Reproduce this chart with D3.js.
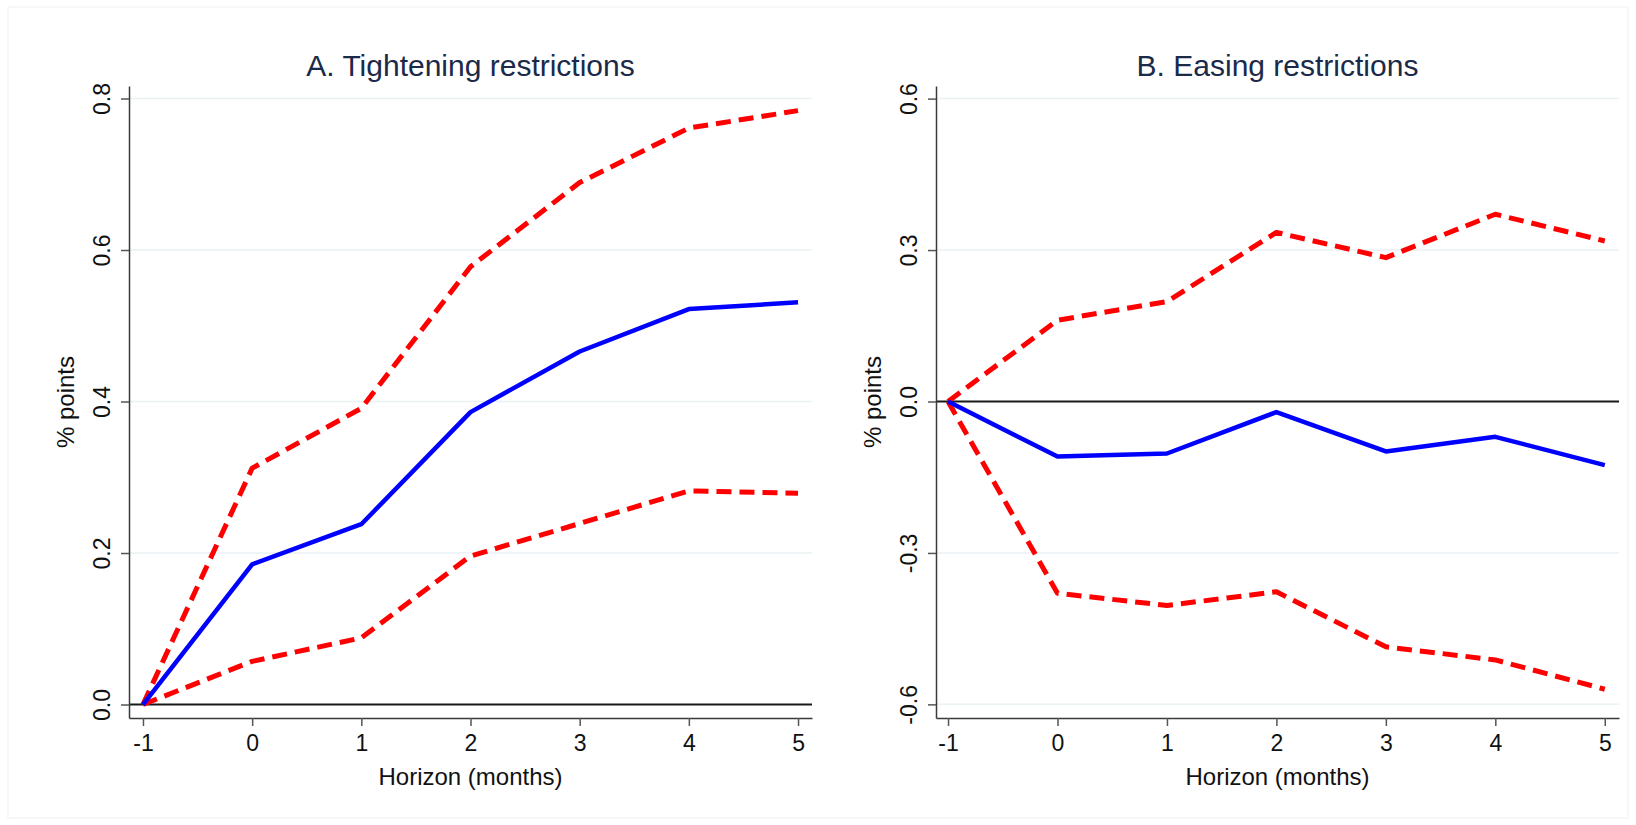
<!DOCTYPE html>
<html>
<head>
<meta charset="utf-8">
<script src="https://cdn.jsdelivr.net/npm/d3@7"></script>
<style>
  body { margin: 0; background: #fff; }
  svg { display: block; font-family: "Liberation Sans", Arial, sans-serif; }
</style>
</head>
<body>
<div id="graph"></div>
<script>
const horizon = [-1, 0, 1, 2, 3, 4, 5];

// A. Tightening restrictions
const tightUpper = [0, 0.312, 0.391, 0.578, 0.689, 0.761, 0.784];
const tightIrf = [0, 0.185, 0.238, 0.386, 0.466, 0.522, 0.531];
const tightLower = [0, 0.057, 0.088, 0.196, 0.239, 0.282, 0.279];
const tightTicks = [0, 0.2, 0.4, 0.6, 0.8];

// B. Easing restrictions
const easeUpper = [0, 0.161, 0.198, 0.335, 0.285, 0.371, 0.318];
const easeIrf = [0, -0.109, -0.103, -0.021, -0.099, -0.070, -0.126];
const easeLower = [0, -0.380, -0.404, -0.377, -0.486, -0.512, -0.570];
const easeTicks = [-0.6, -0.3, 0, 0.3, 0.6];

const W = 1636, H = 825;
const plotTop = 86, plotBottom = 718;

const svg = d3.select('#graph').append('svg')
  .attr('width', W)
  .attr('height', H);

// faint outer frame
svg.append('rect')
  .attr('x', 8).attr('y', 7)
  .attr('width', W - 16).attr('height', H - 14)
  .attr('fill', 'none')
  .attr('stroke', '#f0f0f0')
  .attr('stroke-width', 1);

function drawPanel(opts) {
  const xScale = d3.scaleLinear().domain(opts.xDomain).range([opts.left, opts.right]);
  const yScale = d3.scaleLinear().domain(opts.yDomain).range([plotBottom, plotTop]);
  const g = svg.append('g');

  // gridlines
  g.selectAll('line.grid')
    .data(opts.ticks)
    .enter().append('line')
    .attr('class', 'grid')
    .attr('x1', opts.left).attr('x2', opts.right)
    .attr('y1', (d) => yScale(d)).attr('y2', (d) => yScale(d))
    .attr('stroke', '#eaf2f3')
    .attr('stroke-width', 1.5);

  // zero line
  g.append('line')
    .attr('x1', opts.left).attr('x2', opts.right)
    .attr('y1', yScale(0)).attr('y2', yScale(0))
    .attr('stroke', '#1a1a1a')
    .attr('stroke-width', 2);

  // axes
  const xAxis = d3.axisBottom(xScale)
    .tickValues(horizon)
    .tickSize(8)
    .tickSizeOuter(0)
    .tickPadding(9)
    .tickFormat((d) => d.toFixed(0));
  const xg = g.append('g')
    .attr('transform', 'translate(0,' + plotBottom + ')')
    .call(xAxis);
  xg.select('.domain').attr('stroke', '#3a3a3a').attr('stroke-width', 1.5);
  xg.selectAll('.tick line').attr('stroke', '#555').attr('stroke-width', 1.5);
  xg.selectAll('.tick text')
    .attr('font-size', 23)
    .attr('fill', '#111')
    .attr('font-family', '"Liberation Sans", Arial, sans-serif');

  const yAxis = d3.axisLeft(yScale)
    .tickValues(opts.ticks)
    .tickSize(8)
    .tickSizeOuter(0)
    .tickFormat((d) => d.toFixed(1));
  const yg = g.append('g')
    .attr('transform', 'translate(' + opts.left + ',0)')
    .call(yAxis);
  yg.select('.domain').attr('stroke', '#3a3a3a').attr('stroke-width', 1.5);
  yg.selectAll('.tick line').attr('stroke', '#555').attr('stroke-width', 1.5);
  yg.selectAll('.tick text')
    .attr('font-size', 23)
    .attr('fill', '#111')
    .attr('font-family', '"Liberation Sans", Arial, sans-serif')
    .attr('text-anchor', 'middle')
    .attr('dy', null)
    .attr('x', null)
    .attr('transform', 'translate(-27,0) rotate(-90)')
    .attr('dominant-baseline', 'central');

  // lines
  const line = d3.line()
    .x((d, i) => xScale(horizon[i]))
    .y((d) => yScale(d));

  [opts.lower, opts.upper].forEach((s) => {
    g.append('path')
      .datum(s)
      .attr('fill', 'none')
      .attr('stroke', '#ff0000')
      .attr('stroke-width', 5)
      .attr('stroke-dasharray', '15,8')
      .attr('stroke-linejoin', 'round')
      .attr('d', line);
  });

  g.append('path')
    .datum(opts.irf)
    .attr('fill', 'none')
    .attr('stroke', '#0000ff')
    .attr('stroke-width', 4.5)
    .attr('stroke-linejoin', 'round')
    .attr('d', line);

  // titles
  g.append('text')
    .attr('x', (opts.left + opts.right) / 2)
    .attr('y', 76)
    .attr('text-anchor', 'middle')
    .attr('font-size', 30)
    .attr('fill', '#1a2a48')
    .text(opts.title);

  g.append('text')
    .attr('x', (opts.left + opts.right) / 2)
    .attr('y', 785)
    .attr('text-anchor', 'middle')
    .attr('font-size', 24)
    .attr('fill', '#111')
    .text('Horizon (months)');

  g.append('text')
    .attr('transform', 'translate(' + (opts.left - 64) + ',402) rotate(-90)')
    .attr('text-anchor', 'middle')
    .attr('dominant-baseline', 'central')
    .attr('font-size', 24)
    .attr('fill', '#111')
    .text('% points');
}

drawPanel({
  title: 'A. Tightening restrictions',
  left: 129, right: 812,
  xDomain: [-1.128, 5.128],
  yDomain: [-0.0178, 0.8165],
  ticks: tightTicks,
  upper: tightUpper, irf: tightIrf, lower: tightLower
});

drawPanel({
  title: 'B. Easing restrictions',
  left: 936, right: 1619,
  xDomain: [-1.11, 5.13],
  yDomain: [-0.627, 0.625],
  ticks: easeTicks,
  upper: easeUpper, irf: easeIrf, lower: easeLower
});
</script>
</body>
</html>
